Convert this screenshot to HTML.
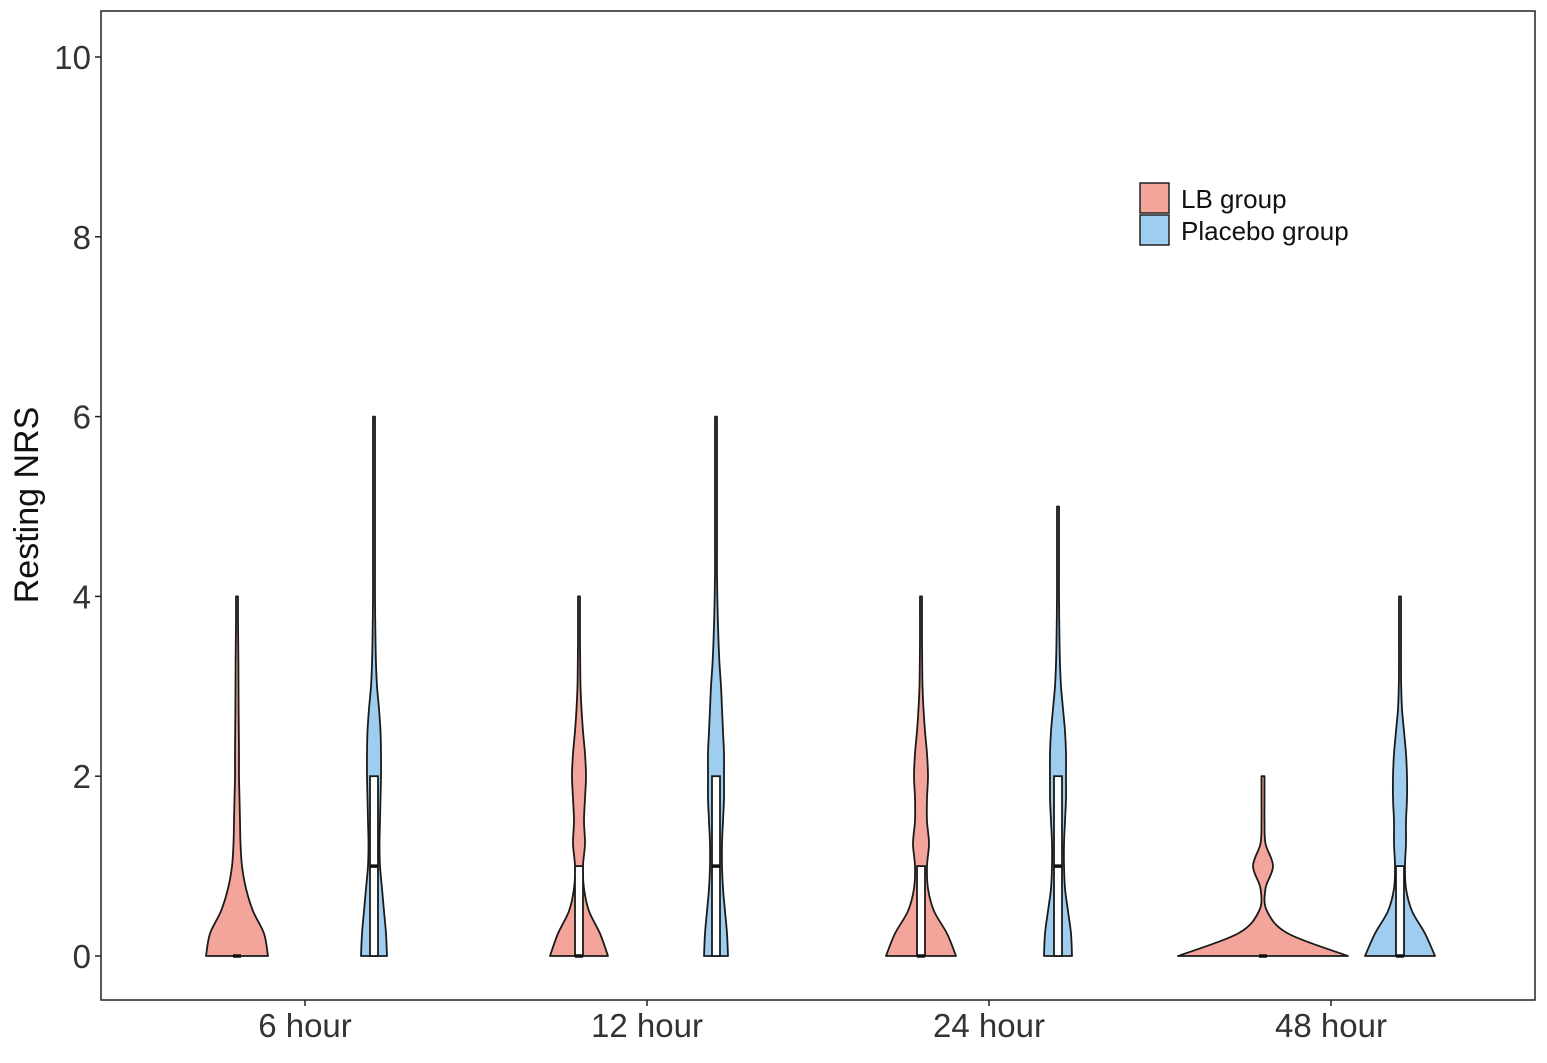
<!DOCTYPE html>
<html><head><meta charset="utf-8"><style>
body{margin:0;background:#fff}
svg{display:block;font-family:"Liberation Sans",Arial,sans-serif}
</style></head><body>
<svg id="chart" width="1547" height="1063">
<rect x="101" y="11" width="1434" height="989" fill="none" stroke="#222" stroke-width="1.5"/>
<g id="yaxis"></g>
<g id="xaxis"></g>
<g id="violins"></g>
<text x="38" y="505" font-size="34" fill="#111" text-anchor="middle" transform="rotate(-90 38 505)">Resting NRS</text>
<g>
<rect x="1140" y="183" width="29" height="30" fill="#F4A59B" stroke="#222" stroke-width="1.5"/>
<rect x="1140" y="215" width="29" height="30" fill="#9ECDF0" stroke="#222" stroke-width="1.5"/>
<text x="1181" y="208" font-size="26" fill="#111">LB group</text>
<text x="1181" y="240" font-size="26" fill="#111">Placebo group</text>
</g>
</svg>
<script>
const categories=["6 hour","12 hour","24 hour","48 hour"];
const yTicks=[0,2,4,6,8,10];
const step=0.25;
// density half-widths sampled every 0.25 units from 0 to max
const lbDensity=[
[31,27,16,9,5,3.5,3,2.5,2,2,1.8,1.6,1.5,1.4,1.2,1,1],
[29,21,10,5,4,6,5,6,7,6,4,2.5,1.5,1.2,1,1,1],
[35,26,13,7,6,8,6,6,7,6,4,2.5,1.5,1.2,1,1,1],
[85,25,4,2.5,10,2.5,1.5,1.5,1.5]];
const placeboDensity=[
[13,12,10,8,6,5.5,6,6.5,7,7,6.5,5,3,2,1.5,1.2,1,1,1,1,1,1,1,1,1],
[12,11,9,7,6,6,7,8,8,8,7,6,5,3.5,2.5,1.8,1.3,1,1,1,1,1,1,1,1],
[14,13,10,7,6,6,7,8,8,8,7,5,3,2,1.5,1.2,1,1,1,1,1],
[35,25,12,6,5,6,6,7,7,6,4,2,1.2,1,1,1,1]];
const lbQ1=[0,0,0,0], lbMed=[0,0,0,0], lbQ3=[0,1,1,0];
const plQ1=[0,0,0,0], plMed=[1,1,1,0], plQ3=[2,2,2,1];

const NS="http://www.w3.org/2000/svg";
const y=v=>956-v*89.9;
const xc=i=>305+i*342;
function mk(tag,attrs,parent){const e=document.createElementNS(NS,tag);for(const k in attrs)e.setAttribute(k,attrs[k]);parent.appendChild(e);return e;}
const ya=document.getElementById('yaxis'), xa=document.getElementById('xaxis'), vg=document.getElementById('violins');
yTicks.forEach(t=>{
  const l=mk('line',{x1:95,x2:101,y1:y(t),y2:y(t),stroke:'#222','stroke-width':1.5},ya);
  
  
  const tx=mk('text',{x:91,y:y(t)+12,'font-size':33,'text-anchor':'end',fill:'#333'},ya);
  tx.textContent=t;
  
  
});
categories.forEach((c,i)=>{
  const l=mk('line',{x1:xc(i),x2:xc(i),y1:1000,y2:1006,stroke:'#222','stroke-width':1.5},xa);
  
  
  const tx=mk('text',{x:xc(i),y:1037,'font-size':33,'text-anchor':'middle',fill:'#333'},xa);
  tx.textContent=c;
  
  
});
function smooth(pts){
  let d='';
  for(let i=0;i<pts.length-1;i++){
    const p0=pts[Math.max(0,i-1)],p1=pts[i],p2=pts[i+1],p3=pts[Math.min(pts.length-1,i+2)];
    const c1=[p1[0]+(p2[0]-p0[0])/6,p1[1]+(p2[1]-p0[1])/6];
    const c2=[p2[0]-(p3[0]-p1[0])/6,p2[1]-(p3[1]-p1[1])/6];
    d+=` C${c1[0]},${c1[1]} ${c2[0]},${c2[1]} ${p2[0]},${p2[1]}`;
  }
  return d;
}
function violin(cx,dens,q1,med,q3,fill,name){
  const right=dens.map((w,k)=>[cx+w,y(k*step)]);
  const left=dens.map((w,k)=>[cx-w,y(k*step)]).reverse();
  let d=`M${cx-dens[0]},${y(0)} L${right[0][0]},${right[0][1]}`+smooth(right)+` L${left[0][0]},${left[0][1]}`+smooth(left)+' Z';
  const p=mk('path',{d:d,fill:fill,stroke:'#1a1a1a','stroke-width':1.8,'stroke-linejoin':'round'},vg);
  
  
  const bw=4;
  if(q3>q1){
    const b=mk('rect',{x:cx-bw,y:y(q3),width:bw*2,height:y(q1)-y(q3),fill:'#fff',stroke:'#1a1a1a','stroke-width':1.8},vg);
    
    
  }
  const m=mk('line',{x1:cx-bw,x2:cx+bw,y1:y(med),y2:y(med),stroke:'#111','stroke-width':3.5},vg);
  
  
}
categories.forEach((c,i)=>{
  violin(xc(i)-68,lbDensity[i],lbQ1[i],lbMed[i],lbQ3[i],'#F4A59B','lb-'+i);
  violin(xc(i)+69,placeboDensity[i],plQ1[i],plMed[i],plQ3[i],'#9ECDF0','placebo-'+i);
});
</script>
</body></html>
